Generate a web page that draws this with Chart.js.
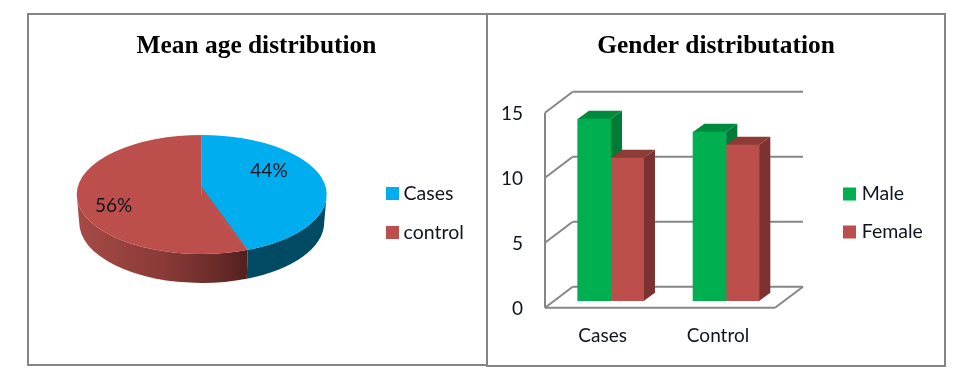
<!DOCTYPE html>
<html>
<head>
<meta charset="utf-8">
<title>Mean age and gender distribution</title>
<script src="https://cdn.jsdelivr.net/npm/chart.js@4"></script>
<style>
  html, body { margin: 0; padding: 0; background: #fff; overflow: hidden; }
  body { width: 960px; height: 382px; position: relative; }
  canvas { position: absolute; top: 15px; }
  #pieChart { left: 28px; }
  #barChart { left: 488px; }
  .frame { position: absolute; border: 2px solid #858585; box-sizing: border-box; }
  #frameLeft { left: 27px; top: 13px; width: 461px; height: 353px; }
  #frameRight { left: 486px; top: 13px; width: 460px; height: 354px; }
</style>
</head>
<body>
<div class="frame" id="frameLeft"></div>
<div class="frame" id="frameRight"></div>
<canvas id="pieChart" width="457" height="349"></canvas>
<canvas id="barChart" width="456" height="349"></canvas>
<script>
// chart data
var pieLabels = ['Cases', 'control'];
var pieValues = [44, 56];
var pieColors = ['#00AEEF', '#BC4F4B'];

var barCategories = ['Cases', 'Control'];
var maleValues = [14, 13];
var femaleValues = [11, 12];
var yTicks = [0, 5, 10, 15];
var barColors = ['#00B050', '#BC4F4B'];
var barSideColors = ['#007A37', '#7C3230'];
var barTopColors = ['#008A3E', '#8E3B38'];

var textColor = '#10151f';
var legendFont = '19.5px Lato';
var percentFont = '19px Lato';

function title(text) {
  return {
    display: true,
    text: text,
    color: '#000',
    font: { family: 'Liberation Serif', size: 25.4, weight: 'bold' },
    padding: { top: 16.3, bottom: 44.2 }
  };
}

// legend drawn by hand, the gap between box and text is tighter than the built in one
function drawLegend(chart, x, ys, colors, textX) {
  var ctx = chart.ctx;
  ctx.save();
  ctx.font = legendFont;
  ctx.textBaseline = 'middle';
  ctx.textAlign = 'left';
  chart.data.legendLabels.forEach(function(label, i) {
    ctx.fillStyle = colors[i];
    ctx.fillRect(x, ys[i], 13, 13);
    ctx.fillStyle = textColor;
    ctx.fillText(label, textX, ys[i] + 6.5);
  });
  ctx.restore();
}

/*-------------------------Pie-----------------------*/

// canvas coordinates, page minus the canvas offset
var top3d = { x: 173.7, y: 179.5, rx: 125, ry: 59.5 };
var bottom3d = { x: 173.7, y: 207.5, rx: 122.5, ry: 60.5 };

var pie3d = {
  id: 'pie3d',
  beforeDatasetsDraw: function(chart) {
    var ctx = chart.ctx;
    var arcs = chart.getDatasetMeta(0).data;

    var shade = ctx.createLinearGradient(50, 0, 222, 0);
    shade.addColorStop(0, '#A64A45');
    shade.addColorStop(0.5, '#8A3A37');
    shade.addColorStop(0.85, '#652927');
    shade.addColorStop(1, '#4E1F1E');
    var sides = ['#004A64', shade];

    arcs.forEach(function(arc, i) {
      var a1 = Math.max(arc.startAngle, 0);
      var a2 = Math.min(arc.endAngle, Math.PI);
      if (a2 <= a1) return;
      ctx.beginPath();
      ctx.ellipse(top3d.x, top3d.y, top3d.rx, top3d.ry, 0, a1, a2);
      ctx.ellipse(bottom3d.x, bottom3d.y, bottom3d.rx, bottom3d.ry, 0, a2, a1, true);
      ctx.closePath();
      ctx.fillStyle = sides[i];
      ctx.fill();
    });

    // squash the round pie to the tilted ellipse
    var first = arcs[0];
    ctx.save();
    ctx.translate(top3d.x, top3d.y);
    ctx.scale(top3d.rx / first.outerRadius, top3d.ry / first.outerRadius);
    ctx.translate(-first.x, -first.y);
  },
  afterDatasetsDraw: function(chart) {
    var ctx = chart.ctx;
    ctx.restore();

    var end = chart.getDatasetMeta(0).data[0].endAngle;

    // the tip of the slices sits a bit above the middle of the ellipse
    ctx.beginPath();
    ctx.moveTo(top3d.x, top3d.y - 7.5);
    ctx.lineTo(top3d.x, top3d.y + 1);
    ctx.lineTo(top3d.x + top3d.rx * Math.cos(end), top3d.y + top3d.ry * Math.sin(end));
    ctx.closePath();
    ctx.fillStyle = pieColors[1];
    ctx.fill();

    ctx.save();
    ctx.font = percentFont;
    ctx.fillStyle = textColor;
    ctx.textAlign = 'center';
    ctx.textBaseline = 'middle';
    ctx.fillText(pieValues[0] + '%', 241, 156);
    ctx.fillText(pieValues[1] + '%', 85.7, 191);
    ctx.restore();

    drawLegend(chart, 358, [172, 211], pieColors, 375.5);
  }
};

new Chart(document.getElementById('pieChart'), {
  type: 'pie',
  data: {
    labels: pieLabels,
    legendLabels: pieLabels,
    datasets: [{
      data: pieValues,
      backgroundColor: pieColors,
      borderWidth: 0,
      clip: false
    }]
  },
  options: {
    responsive: false,
    animation: false,
    plugins: {
      legend: { display: false },
      tooltip: { enabled: false },
      title: title('Mean age distribution')
    }
  },
  plugins: [pie3d]
});

/*-------------------------Bars-----------------------*/

var bar3d = {
  id: 'bar3d',
  afterLayout: function(chart) {
    // title stays centred on the whole panel, not on the padded area
    chart.titleBlock.left = 0;
    chart.titleBlock.right = chart.width;
  },
  beforeDatasetsDraw: function(chart) {
    var ctx = chart.ctx;
    var y = chart.scales.y;
    var area = chart.chartArea;
    var frontL = area.left - 8, frontR = area.right - 8.7;
    var backL = frontL + 27.7, backR = area.right + 19.3;

    ctx.save();
    ctx.strokeStyle = '#868686';
    ctx.lineWidth = 2;

    function line(x1, y1, x2, y2) {
      ctx.beginPath();
      ctx.moveTo(x1, y1);
      ctx.lineTo(x2, y2);
      ctx.stroke();
    }

    var zero = y.getPixelForValue(0);
    line(frontL, y.getPixelForValue(15) + 6.7, frontL, zero + 6.7);
    yTicks.forEach(function(v) {
      var py = y.getPixelForValue(v);
      line(frontL, py + 6.7, backL, py - 14.3);
      line(backL, py - 14.3, backR, py - 14.3);
    });
    line(frontL, zero + 6.7, frontR, zero + 6.7);
    line(frontR, zero + 6.7, backR, zero - 14.3);

    // side and top of every bar, the front comes from the chart itself
    var dx = 11.3, dy = 8.3;
    chart.data.datasets.forEach(function(ds, d) {
      chart.getDatasetMeta(d).data.forEach(function(bar) {
        var l = bar.x - bar.width / 2, r = bar.x + bar.width / 2;
        ctx.fillStyle = barSideColors[d];
        ctx.beginPath();
        ctx.moveTo(r, bar.y);
        ctx.lineTo(r + dx, bar.y - dy);
        ctx.lineTo(r + dx, bar.base - dy);
        ctx.lineTo(r, bar.base);
        ctx.closePath();
        ctx.fill();
        ctx.fillStyle = barTopColors[d];
        ctx.beginPath();
        ctx.moveTo(l, bar.y);
        ctx.lineTo(l + dx, bar.y - dy);
        ctx.lineTo(r + dx, bar.y - dy);
        ctx.lineTo(r, bar.y);
        ctx.closePath();
        ctx.fill();
      });
    });
    ctx.restore();
  },
  afterDatasetsDraw: function(chart) {
    drawLegend(chart, 355, [172.5, 210.5], barColors, 373.7);
  }
};

new Chart(document.getElementById('barChart'), {
  type: 'bar',
  data: {
    labels: barCategories,
    legendLabels: ['Male', 'Female'],
    datasets: [
      { label: 'Male', data: maleValues, backgroundColor: barColors[0], barThickness: 33 },
      { label: 'Female', data: femaleValues, backgroundColor: barColors[1], barThickness: 33 }
    ]
  },
  options: {
    responsive: false,
    animation: false,
    layout: { padding: { right: 160.3 } },
    scales: {
      x: {
        afterFit: function(s) { s.height = 63; },
        grid: { display: false },
        border: { display: false },
        ticks: { color: textColor, font: { family: 'Lato', size: 19 }, padding: 15, labelOffset: -8, maxRotation: 0 }
      },
      y: {
        min: 0,
        max: 15,
        afterFit: function(s) { s.width = 65; },
        afterBuildTicks: function(s) { s.ticks = yTicks.map(function(v) { return { value: v }; }); },
        grid: { display: false },
        border: { display: false },
        ticks: { color: textColor, font: { family: 'Lato', size: 19 }, padding: 22, labelOffset: 7.5 }
      }
    },
    plugins: {
      legend: { display: false },
      tooltip: { enabled: false },
      title: title('Gender distributation')
    }
  },
  plugins: [bar3d]
});
</script>
</body>
</html>
